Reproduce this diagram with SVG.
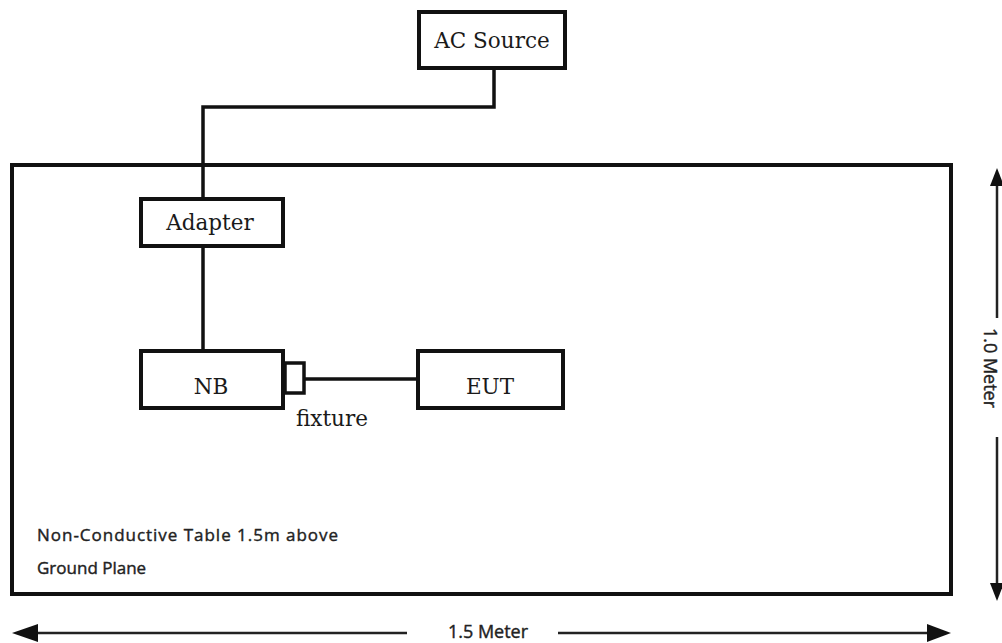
<svg xmlns="http://www.w3.org/2000/svg" width="1002" height="643" viewBox="0 0 1002 643">
<style>
.box{fill:#fff;stroke:#111;stroke-width:4}
.lbl{font-family:"DejaVu Serif",serif;font-size:21.5px;fill:#1a1a1a;text-anchor:middle}
.wire{fill:none;stroke:#111;stroke-width:3.5}
.dim{fill:none;stroke:#222;stroke-width:2.5}
.note{font-family:"Open Sans",sans-serif;font-size:17px;fill:#222;stroke:#222;stroke-width:0.4}
.dimtxt{font-family:"Open Sans",sans-serif;font-size:18px;fill:#222;stroke:#222;stroke-width:0.4;text-anchor:middle}
.head{fill:#111}
</style>
<rect width="1002" height="643" fill="#fff"/>
<g id="table">
<rect x="12" y="165" width="939" height="429" fill="none" stroke="#111" stroke-width="4"/>
<text class="note" x="37" y="541" textLength="301" lengthAdjust="spacing">Non-Conductive Table  1.5m  above</text>
<text class="note" x="37" y="574">Ground Plane</text>
</g>
<g id="connectors">
<path class="wire" d="M494,70 V107 H203 V199"/>
<path class="wire" d="M203,246 V351"/>
<path class="wire" d="M304,379 H417"/>
</g>
<g id="ac-source">
<rect class="box" x="419" y="12" width="146" height="56"/>
<text class="lbl" x="492" y="48">AC Source</text>
</g>
<g id="adapter">
<rect class="box" x="141" y="199" width="142" height="47"/>
<text class="lbl" x="210" y="230">Adapter</text>
</g>
<g id="nb">
<rect class="box" x="141" y="351" width="142" height="57"/>
<text class="lbl" x="211" y="394">NB</text>
</g>
<g id="fixture">
<rect x="285" y="363" width="19" height="30" fill="#fff" stroke="#111" stroke-width="3.5"/>
<text class="lbl" x="332" y="426">fixture</text>
</g>
<g id="eut">
<rect class="box" x="418" y="351" width="145" height="57"/>
<text class="lbl" x="490" y="394">EUT</text>
</g>
<g id="dim-height">
<line class="dim" x1="997" y1="180" x2="997" y2="318"/>
<line class="dim" x1="997" y1="437" x2="997" y2="586"/>
<polygon class="head" points="997,168 990,186 1004,186"/>
<polygon class="head" points="997,601 990,583 1004,583"/>
<text class="dimtxt" transform="translate(990,368) rotate(90)" y="6" font-size="17">1.0 Meter</text>
</g>
<g id="dim-width">
<line class="dim" x1="35" y1="633" x2="407" y2="633"/>
<line class="dim" x1="558" y1="633" x2="930" y2="633"/>
<polygon class="head" points="12,633 38,624 38,642"/>
<polygon class="head" points="951,633 927,624 927,642"/>
<text class="dimtxt" x="488" y="638">1.5 Meter</text>
</g>
</svg>
